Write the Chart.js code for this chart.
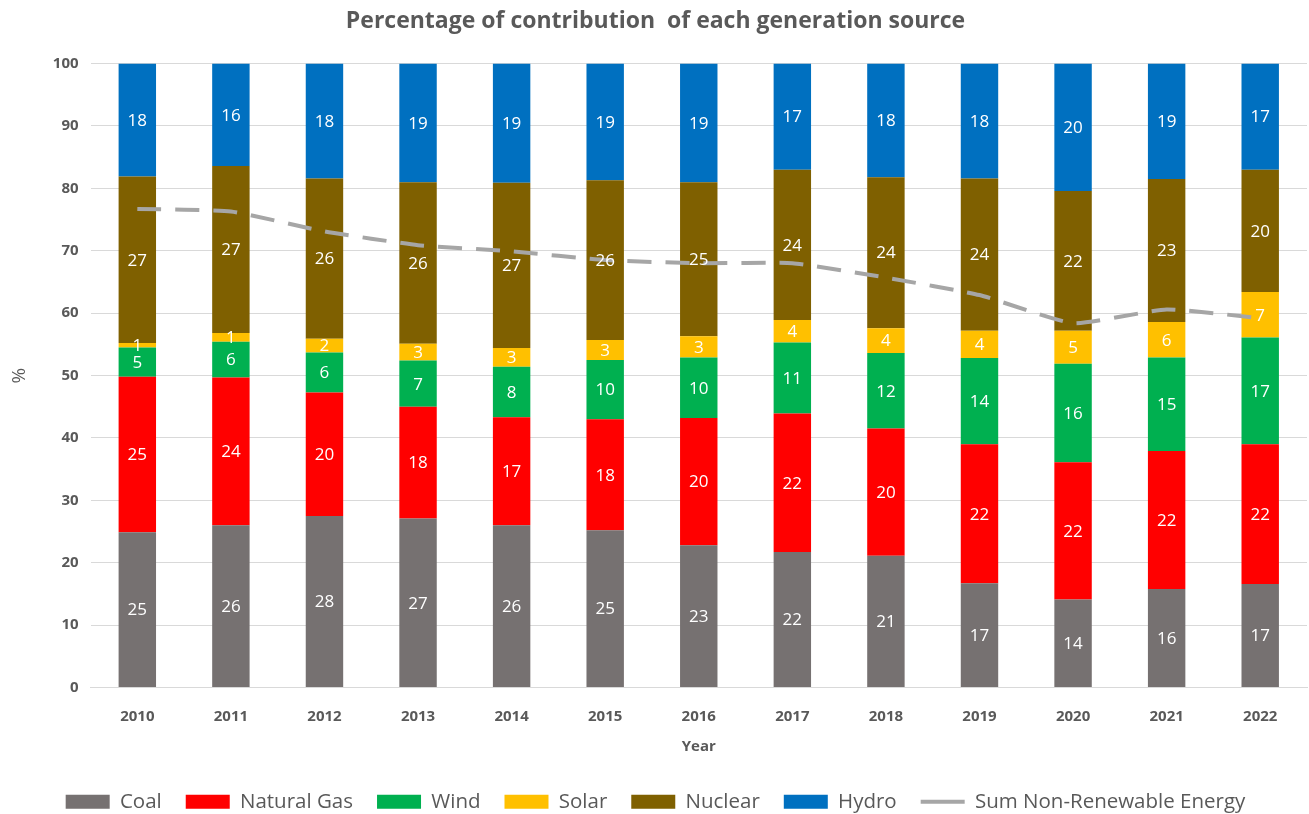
<!DOCTYPE html>
<html>
<head>
<meta charset="utf-8">
<script src="https://cdn.jsdelivr.net/npm/chart.js@4"></script>
<style>
  html, body { margin: 0; padding: 0; background: #fff; }
  #wrap { width: 1309px; height: 814px; }
</style>
</head>
<body>
<div id="wrap"><canvas id="chart"></canvas></div>
<script>
// Years on the x axis
const years = ['2010','2011','2012','2013','2014','2015','2016','2017','2018','2019','2020','2021','2022'];

// Share of each source (%)
const coal       = [24.9, 26.0, 27.5, 27.1, 26.0, 25.2, 22.8, 21.7, 21.1, 16.7, 14.1, 15.8, 16.6];
const naturalGas = [24.9, 23.7, 19.8, 17.9, 17.3, 17.8, 20.4, 22.2, 20.4, 22.3, 22.0, 22.1, 22.4];
const wind       = [4.7, 5.7, 6.4, 7.4, 8.1, 9.5, 9.7, 11.4, 12.1, 13.8, 15.8, 15.0, 17.1];
const solar      = [0.7, 1.4, 2.2, 2.7, 3.0, 3.2, 3.4, 3.6, 4.0, 4.4, 5.3, 5.7, 7.3];
const nuclear    = [26.7, 26.8, 25.7, 25.9, 26.5, 25.6, 24.7, 24.1, 24.2, 24.4, 22.4, 22.9, 19.6];
const hydro      = [18.1, 16.4, 18.4, 19.0, 19.1, 18.7, 19.0, 17.0, 18.2, 18.4, 20.4, 18.5, 17.0];

// Dashed line: coal + gas + nuclear
const sumNonRenewable = [76.7, 76.3, 73.1, 70.9, 69.9, 68.5, 68.0, 68.0, 65.7, 62.9, 58.4, 60.6, 59.2];

const FONT = "'Open Sans', 'Noto Sans', sans-serif";
const GREY_TEXT = '#595959';

// white value labels centred in each bar segment
const segmentLabels = {
  id: 'segmentLabels',
  afterDatasetsDraw(chart) {
    const ctx = chart.ctx;
    ctx.save();
    ctx.fillStyle = '#ffffff';
    ctx.font = '17px ' + FONT;
    ctx.textAlign = 'center';
    ctx.textBaseline = 'middle';
    chart.data.datasets.forEach((ds, i) => {
      if (ds.type === 'line') return;
      const meta = chart.getDatasetMeta(i);
      meta.data.forEach((bar, j) => {
        ctx.fillText(Math.round(ds.data[j]), bar.x, (bar.y + bar.base) / 2 + 1);
      });
    });
    ctx.restore();
  }
};

const bar = (label, data, color) => ({
  type: 'bar', label, data, backgroundColor: color, borderWidth: 0,
  stack: 'mix', order: 2, pointStyle: 'rect'
});

new Chart(document.getElementById('chart'), {
  data: {
    labels: years,
    datasets: [
      bar('Coal', coal, '#767171'),
      bar('Natural Gas', naturalGas, '#FF0000'),
      bar('Wind', wind, '#00B050'),
      bar('Solar', solar, '#FFC000'),
      bar('Nuclear', nuclear, '#7F6000'),
      bar('Hydro', hydro, '#0070C0'),
      {
        type: 'line', label: 'Sum Non-Renewable Energy', data: sumNonRenewable,
        borderColor: '#A6A6A6', backgroundColor: '#A6A6A6', borderWidth: 4,
        borderDash: [24, 14], pointRadius: 0, tension: 0.15, stack: 'line',
        order: 1, pointStyle: 'line'
      }
    ]
  },
  options: {
    responsive: true,
    maintainAspectRatio: false,
    animation: false,
    datasets: { bar: { barPercentage: 0.4, categoryPercentage: 1.0 } },
    layout: { padding: { left: 4, right: 2, top: 6, bottom: -8 } },
    plugins: {
      title: {
        display: true,
        text: 'Percentage of contribution  of each generation source',
        color: GREY_TEXT,
        font: { family: FONT, size: 23, weight: 'bold' },
        padding: { top: 2, bottom: 28 }
      },
      legend: {
        position: 'bottom',
        labels: {
          usePointStyle: true,
          pointStyleWidth: 44,
          boxHeight: 14,
          color: GREY_TEXT,
          padding: 24,
          font: { family: FONT, size: 20.5 },
          sort: (a, b) => a.datasetIndex - b.datasetIndex
        }
      },
      tooltip: { enabled: false }
    },
    scales: {
      x: {
        stacked: true,
        grid: { display: false },
        border: { color: '#D9D9D9' },
        ticks: { color: GREY_TEXT, font: { family: FONT, size: 15, weight: 'bold' }, padding: 12 },
        title: { display: true, text: 'Year', color: GREY_TEXT, font: { family: FONT, size: 15, weight: 'bold' }, padding: { top: 0, bottom: 12 } }
      },
      y: {
        stacked: true,
        min: 0,
        max: 100,
        grid: { color: '#D9D9D9', drawTicks: false },
        border: { display: false },
        ticks: { stepSize: 10, color: GREY_TEXT, font: { family: FONT, size: 15, weight: 'bold' }, padding: 12 },
        title: { display: true, text: '%', color: GREY_TEXT, font: { family: FONT, size: 19 }, padding: { bottom: 10 } }
      }
    }
  },
  plugins: [segmentLabels]
});
</script>
</body>
</html>
